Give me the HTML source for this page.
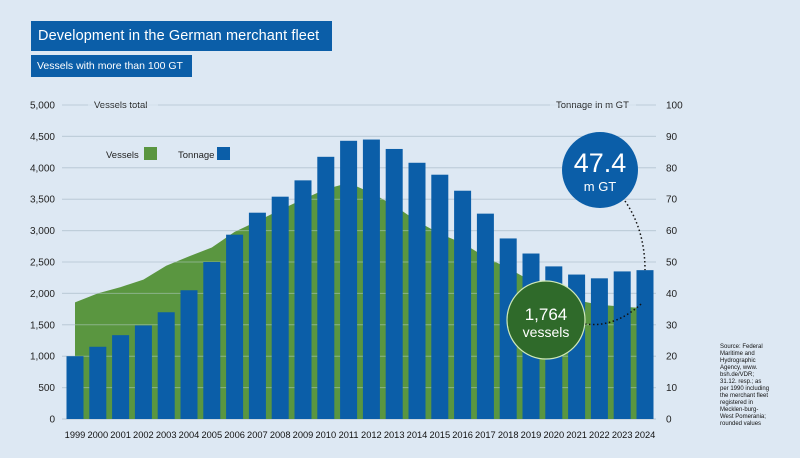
<!DOCTYPE html>
<html><head><meta charset="utf-8"><style>
body{margin:0;width:800px;height:458px;background:#dde8f3;font-family:"Liberation Sans",sans-serif;overflow:hidden;position:relative}
.t{position:absolute;background:#0b5ea8;color:#fff;white-space:nowrap}
</style></head><body>
<div class="t" style="left:31px;top:21px;width:301px;height:30px;font-size:14.5px;line-height:30px;padding-left:7px;box-sizing:border-box;letter-spacing:0.1px">Development in the German merchant fleet</div>
<div class="t" style="left:31px;top:55px;width:161px;height:22px;font-size:10.5px;line-height:22px;padding-left:6px;box-sizing:border-box">Vessels with more than 100 GT</div>
<div style="position:absolute;left:720px;top:344px;width:50px;font-size:6px;line-height:7px;color:#111">Source: Federal Maritime and Hydrographic Agency, www. bsh.de/VDR; 31.12. resp.; as per 1990 including the merchant fleet registered in Mecklen-burg-West Pomerania; rounded values</div>
<svg id="c" width="800" height="458" style="position:absolute;left:0;top:0"></svg>
<script>
const years=[1999,2000,2001,2002,2003,2004,2005,2006,2007,2008,2009,2010,2011,2012,2013,2014,2015,2016,2017,2018,2019,2020,2021,2022,2023,2024];
const vessels=[1857,2000,2100,2220,2440,2590,2730,2980,3150,3330,3500,3660,3760,3600,3400,3150,2950,2800,2580,2400,2200,2000,1890,1820,1790,1764];
const tonnage=[20,23,26.7,29.8,34,41,50,58.7,65.7,70.8,76,83.5,88.6,89,86,81.6,77.8,72.7,65.4,57.5,52.7,48.6,46,44.8,47,47.4];
const leftTicks=[0,500,1000,1500,2000,2500,3000,3500,4000,4500,5000];
const rightTicks=[0,10,20,30,40,50,60,70,80,90,100];
const NS="http://www.w3.org/2000/svg",svg=document.getElementById('c');
const y0=419,H=314;
const yL=v=>y0-v/5000*H, yR=v=>y0-v/100*H, xC=i=>75+i*22.8;
function mk(t,a,p){const e=document.createElementNS(NS,t);for(const k in a)e.setAttribute(k,a[k]);(p||svg).appendChild(e);return e;}
const tx=(x,y,s,o)=>{const e=mk('text',Object.assign({x,y,'font-size':10,fill:'#222','font-family':'Liberation Sans, sans-serif'},o||{}));e.textContent=s;return e;};
leftTicks.forEach((v,i)=>{const y=yL(v);
 const g=mk('line',{x1:62,x2:656,y1:y,y2:y,stroke:'#b5c3d1','stroke-width':1});
 
 
 const l=tx(55,y+3.5,v.toLocaleString('en-US'),{'text-anchor':'end'});
 
 
 const r=tx(666,y+3.5,String(rightTicks[i]));
 
 
});
mk('rect',{x:88,y:98,width:70,height:14,fill:'#dde8f3'});
const lt=tx(94,108,'Vessels total',{'font-size':9.5});
mk('rect',{x:550,y:98,width:86,height:14,fill:'#dde8f3'});
const rt=tx(556,108,'Tonnage in m GT',{'font-size':9.5});
let d='M'+xC(0)+','+y0;vessels.forEach((v,i)=>d+=' L'+xC(i)+','+yL(v));d+=' L'+xC(vessels.length-1)+','+y0+'Z';
const a=mk('path',{d,fill:'#5a9640'});
leftTicks.forEach(v=>{const y=yL(v);if(v>0)mk('line',{x1:62,x2:656,y1:y,y2:y,stroke:'#c8d6e3','stroke-width':1,'stroke-opacity':0.45});});
tonnage.forEach((v,i)=>{const b=mk('rect',{x:xC(i)-8.5,y:yR(v),width:17,height:y0-yR(v),fill:'#0b5ea8'});
 
 
 const l=tx(xC(i),438,String(years[i]),{'text-anchor':'middle','font-size':9.3,fill:'#111'});
 
 
});
const l1=tx(106,158,'Vessels',{'font-size':9.5});
const s1=mk('rect',{x:144,y:147,width:13,height:13,fill:'#5a9640'});
const l2=tx(178,158,'Tonnage',{'font-size':9.5});
const s2=mk('rect',{x:217,y:147,width:13,height:13,fill:'#0b5ea8'});
const n=years.length-1;
mk('path',{d:`M625,201 Q645,230 ${xC(n)},${yR(tonnage[n])}`,fill:'none',stroke:'#111','stroke-width':1.5,'stroke-dasharray':'1.5 2.5'});
mk('path',{d:`M585,324 Q615,328 ${xC(n)-3},${yL(vessels[n])-5}`,fill:'none',stroke:'#111','stroke-width':1.5,'stroke-dasharray':'1.5 2.5'});
const c1=mk('circle',{cx:600,cy:170,r:38,fill:'#0b5ea8'});
tx(600,172,'47.4',{'text-anchor':'middle','font-size':27,fill:'#fff'});
tx(600,191,'m GT',{'text-anchor':'middle','font-size':13,fill:'#fff'});
const c2=mk('circle',{cx:546,cy:320,r:39,fill:'#2f6a2a',stroke:'#cfe8b8','stroke-width':1.2});
tx(546,320,'1,764',{'text-anchor':'middle','font-size':17,fill:'#fff'});
tx(546,337,'vessels',{'text-anchor':'middle','font-size':14,fill:'#fff'});
</script>
</body></html>
